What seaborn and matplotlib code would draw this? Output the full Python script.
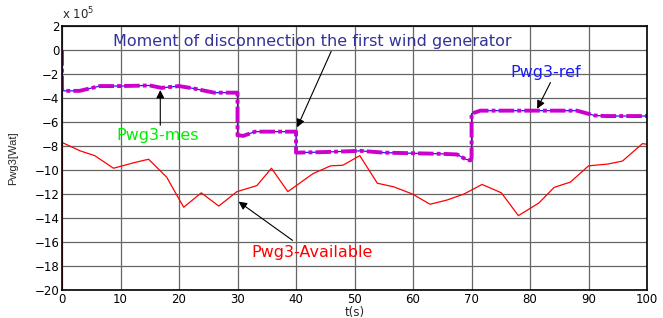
import numpy as np
import pandas as pd
import matplotlib
matplotlib.use("Agg")
import matplotlib.pyplot as plt
import seaborn as sns

# Values in units of 1e5 W
t_avail = [0, 0, 3.1, 5.6, 8.8, 12.2, 14.8, 17.9, 20.8, 23.8, 26.8, 29.9, 33.3, 35.8, 38.6, 42.9,
           45.9, 48.0, 50.9, 53.9, 56.7, 59.9, 62.9, 65.8, 68.7, 71.8, 75.1, 78.0, 81.5, 84.1,
           86.9, 90.0, 93.3, 95.8, 99.2, 100]
p_avail = [-20, -7.7, -8.4, -8.8, -9.85, -9.4, -9.1, -10.6, -13.1, -11.9, -13.0, -11.8, -11.3, -9.85,
           -11.8, -10.3, -9.65, -9.6, -8.8, -11.1, -11.4, -12.0, -12.85, -12.5, -12.0, -11.2,
           -11.9, -13.8, -12.75, -11.45, -11.0, -9.65, -9.5, -9.25, -7.8, -7.85]

t_ref = [0, 0, 0.3, 3, 6.5, 10, 15, 17, 20, 22.5, 26, 30, 30, 31, 33, 40, 40, 45, 51, 55, 65,
         67.5, 69, 69.8, 70, 70, 71.5, 80, 88, 91, 93, 100]
p_ref = [0, -3.3, -3.4, -3.4, -3.0, -3.0, -2.95, -3.15, -3.0, -3.2, -3.55, -3.55, -7.1, -7.15,
         -6.8, -6.8, -8.55, -8.5, -8.4, -8.55, -8.65, -8.7, -9.1, -9.2, -9.0, -5.3, -5.05,
         -5.05, -5.05, -5.45, -5.5, -5.5]

t_mes = t_ref
p_mes = [0, -3.3, -3.4, -3.4, -3.0, -3.0, -2.95, -3.15, -3.0, -3.2, -3.55, -3.55, -7.1, -7.15,
         -6.8, -6.8, -8.55, -8.5, -8.4, -8.55, -8.65, -8.7, -9.1, -9.2, -9.0, -5.3, -5.05,
         -5.05, -5.05, -5.45, -5.5, -5.5]

y_ticks = list(range(-20, 3, 2))
x_ticks = list(range(0, 101, 10))

sns.set_theme(style="whitegrid")
plt.rcParams['font.family'] = ['DejaVu Sans']

fig = plt.figure(figsize=(6.63, 3.18), dpi=100)
ax = fig.add_axes([0.0935, 0.088, 0.8825, 0.830])

df_a = pd.DataFrame({"t": t_avail, "p": p_avail})
df_r = pd.DataFrame({"t": t_ref, "p": p_ref})
df_m = pd.DataFrame({"t": t_mes, "p": p_mes})

sns.lineplot(data=df_a, x="t", y="p", ax=ax, color="#ff0000", lw=0.9, sort=False, estimator=None)
sns.lineplot(data=df_r, x="t", y="p", ax=ax, color="#1a1aff", lw=0.9, sort=False, estimator=None)
sns.lineplot(data=df_m, x="t", y="p", ax=ax, color="#cc00cc", lw=2.8, sort=False, estimator=None,
             dashes=False)
mes_line = ax.lines[-1]
mes_line.set_linestyle((0, (4, 0.8, 1, 0.8)))
mes_line.set_dash_capstyle("butt")

ax.set_xlim(0, 100)
ax.set_ylim(-20, 2)
ax.set_xticks(x_ticks)
ax.set_yticks(y_ticks)
ax.tick_params(labelsize=8.5, colors="black", length=3, direction="in", pad=2)
ax.grid(True, color="#666666", lw=0.9)
ax.set_facecolor("white")
for s in ax.spines.values():
    s.set_visible(True)
    s.set_color("black")
    s.set_linewidth(1.2)

ax.set_xlabel("t(s)", fontsize=8.5, labelpad=0)
ax.set_ylabel("Pwg3[Wat]", fontsize=8, labelpad=12, family="Liberation Sans")
ax.text(0, 1.015, "x 10$^5$", transform=ax.transAxes, fontsize=8.5, va="bottom", ha="left")

fs = 11.5
ax.text(8.7, 0.75, "Moment of disconnection the first wind generator", color="#333399",
        fontsize=fs, va="center", ha="left")
ax.annotate("", xy=(40, -6.65), xytext=(46.2, 0.1),
            arrowprops=dict(arrowstyle="-|>", color="black", lw=0.8, mutation_scale=12))

ax.text(16.3, -7.1, "Pwg3-mes", color="#00ee00", fontsize=fs, va="center", ha="center")
ax.annotate("", xy=(16.8, -3.1), xytext=(16.8, -6.5),
            arrowprops=dict(arrowstyle="-|>", color="black", lw=0.8, mutation_scale=12))

ax.text(82.7, -1.9, "Pwg3-ref", color="#1a1aff", fontsize=fs, va="center", ha="center")
ax.annotate("", xy=(81, -5.1), xytext=(83.7, -2.5),
            arrowprops=dict(arrowstyle="-|>", color="black", lw=0.8, mutation_scale=12))

ax.text(42.7, -16.9, "Pwg3-Available", color="#ff0000", fontsize=fs, va="center", ha="center")
ax.annotate("", xy=(29.8, -12.5), xytext=(39.8, -16.0),
            arrowprops=dict(arrowstyle="-|>", color="black", lw=0.8, mutation_scale=12))

fig.savefig("out.png", dpi=100, facecolor="white")
